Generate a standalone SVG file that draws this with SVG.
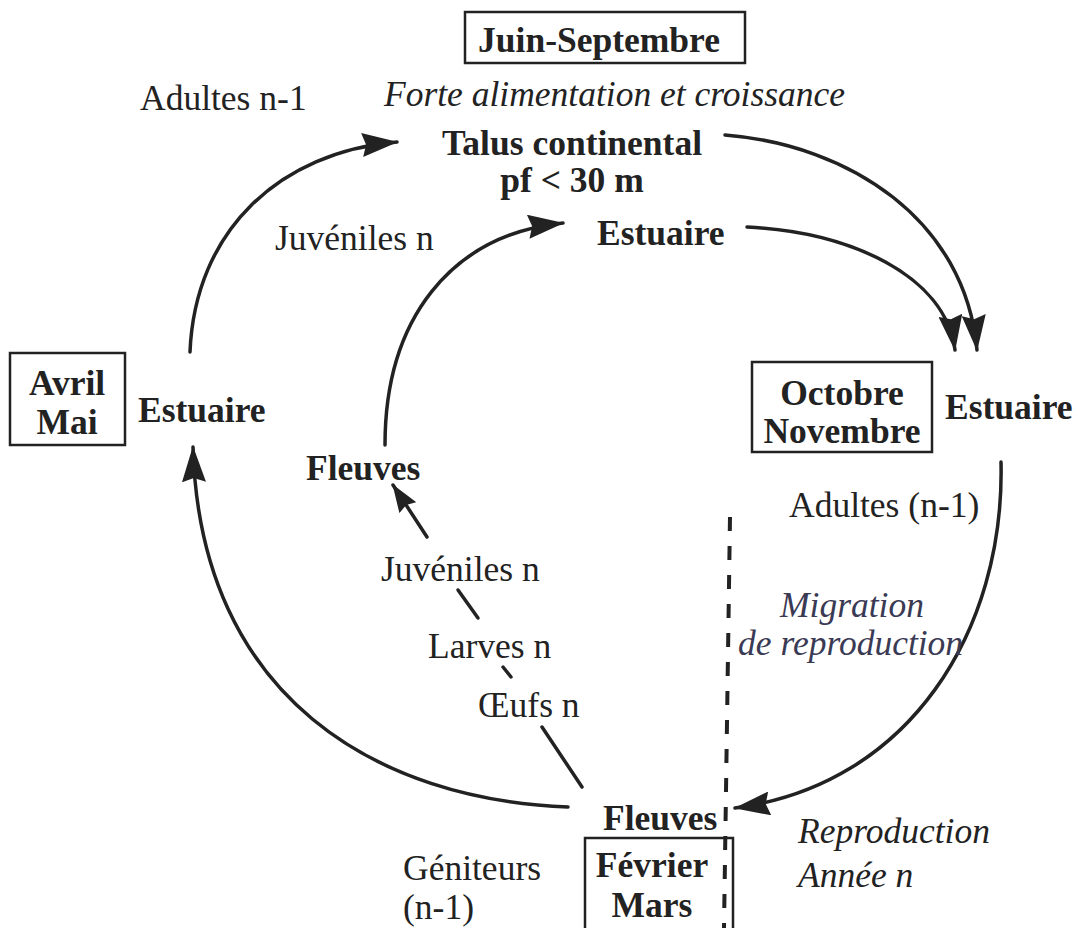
<svg xmlns="http://www.w3.org/2000/svg" width="1080" height="928" viewBox="0 0 1080 928">
<style>
text{font-family:"Liberation Serif","Times New Roman",serif;font-size:35.5px;fill:#222}
.b{font-weight:bold}
.i{font-style:italic}
.m{text-anchor:middle}
.box{fill:none;stroke:#222;stroke-width:2.5}
.c{fill:none;stroke:#222;stroke-width:3.5;stroke-linecap:round}
</style>
<defs>
<marker id="ah" viewBox="0 0 36 24" refX="35" refY="12" markerWidth="36" markerHeight="24" orient="auto" markerUnits="userSpaceOnUse">
<path d="M0,0 L36,12 L0,24 L4,12 z" fill="#222"/>
</marker>
<marker id="ahs" viewBox="0 0 28 20" refX="27" refY="10" markerWidth="28" markerHeight="20" orient="auto" markerUnits="userSpaceOnUse">
<path d="M0,0 L28,10 L0,20 L3,10 z" fill="#222"/>
</marker>
</defs>
<rect width="1080" height="928" fill="#fff"/>

<g id="connectors">
<path class="c" d="M190,352 C195,230 280,152 397,142" marker-end="url(#ah)"/>
<path class="c" d="M385,445 C385,320 450,235 563,223" marker-end="url(#ah)"/>
<path class="c" d="M725,135 C850,145 965,220 977,350" marker-end="url(#ah)"/>
<path class="c" d="M747,227 C850,232 945,275 955,350" marker-end="url(#ah)"/>
<path class="c" d="M1001,462 C1005,630 910,785 735,808" marker-end="url(#ah)"/>
<path class="c" d="M568,807 C380,800 200,700 193,447" marker-end="url(#ah)"/>
<path class="c" d="M427,537 L393,485" marker-end="url(#ahs)"/>
<path class="c" d="M458,590 L478,618"/>
<path class="c" d="M503,667 L511,677"/>
<path class="c" d="M542,727 L582,787"/>
<path d="M730,517 L724,928" fill="none" stroke="#222" stroke-width="4" stroke-dasharray="14 15"/>
</g>

<g id="juin-septembre">
<rect class="box" x="465" y="12" width="280" height="51"/>
<text class="b m" x="599" y="52">Juin-Septembre</text>
</g>
<g id="forte">
<text class="i" x="384" y="106">Forte alimentation et croissance</text>
</g>
<g id="adultes-n1">
<text x="140" y="110">Adultes n-1</text>
</g>
<g id="talus">
<text class="b m" x="572" y="155">Talus continental</text>
<text class="b m" x="572" y="192">pf &lt; 30 m</text>
</g>
<g id="juveniles-top">
<text x="275" y="250">Juvéniles n</text>
</g>
<g id="estuaire-top">
<text class="b" x="597" y="245">Estuaire</text>
</g>
<g id="avril-mai">
<rect class="box" x="10" y="353" width="115" height="92"/>
<text class="b m" x="67" y="395">Avril</text>
<text class="b m" x="67" y="434">Mai</text>
</g>
<g id="estuaire-left">
<text class="b" x="138" y="422">Estuaire</text>
</g>
<g id="octobre-novembre">
<rect class="box" x="752" y="362" width="180" height="90"/>
<text class="b m" x="842" y="405">Octobre</text>
<text class="b m" x="842" y="443">Novembre</text>
</g>
<g id="estuaire-right">
<text class="b" x="945" y="419">Estuaire</text>
</g>
<g id="fleuves-mid">
<text class="b" x="306" y="480">Fleuves</text>
</g>
<g id="adultes-n1-right">
<text x="789" y="517">Adultes (n-1)</text>
</g>
<g id="juveniles-low">
<text x="381" y="581">Juvéniles n</text>
</g>
<g id="migration">
<text class="i" x="780" y="617" style="fill:#3a3a55">Migration</text>
<text class="i" x="738" y="655" style="fill:#3a3a55">de reproduction</text>
</g>
<g id="larves">
<text x="428" y="658">Larves n</text>
</g>
<g id="oeufs">
<text x="478" y="717">Œufs n</text>
</g>
<g id="fleuves-bottom">
<text class="b" x="603" y="830">Fleuves</text>
</g>
<g id="reproduction">
<text class="i" x="798" y="843">Reproduction</text>
<text class="i" x="798" y="887">Année n</text>
</g>
<g id="geniteurs">
<text x="403" y="880">Géniteurs</text>
<text x="403" y="919">(n-1)</text>
</g>
<g id="fevrier-mars">
<rect class="box" x="585" y="838" width="148" height="100"/>
<text class="b m" x="652" y="877">Février</text>
<text class="b m" x="652" y="917">Mars</text>
</g>
</svg>
